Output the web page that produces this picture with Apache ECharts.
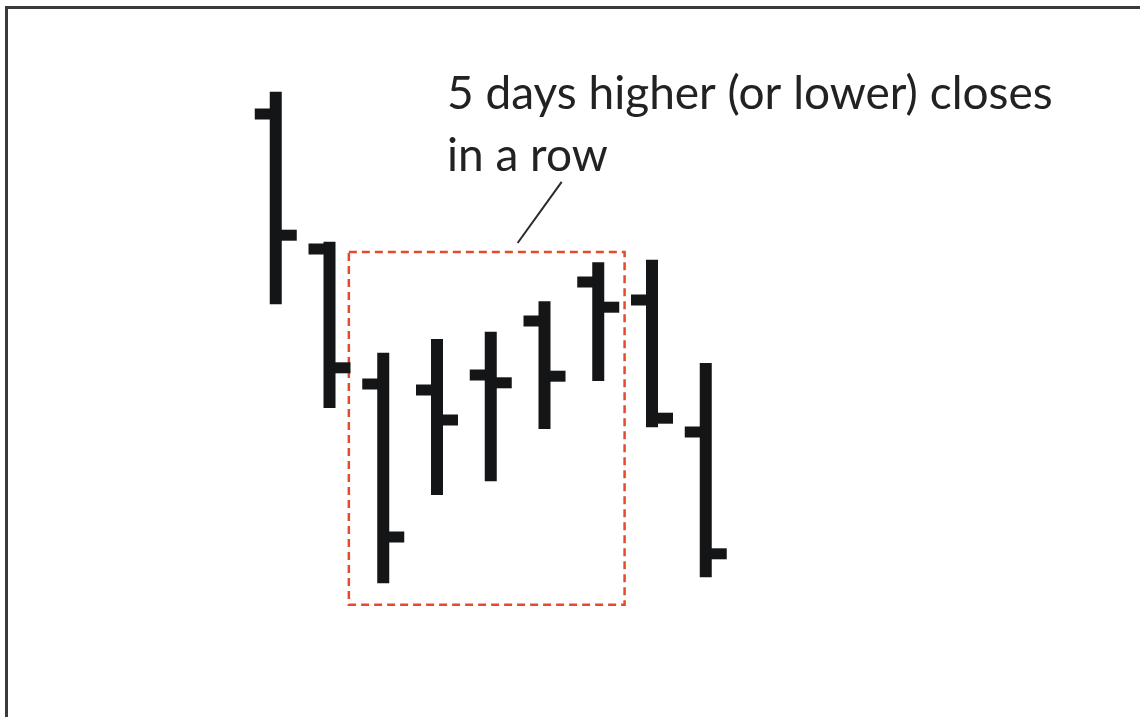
<!DOCTYPE html>
<html>
<head>
<meta charset="utf-8">
<title>5 days higher closes</title>
<script src="https://cdn.jsdelivr.net/npm/echarts@6/dist/echarts.min.js"></script>
<style>
    html, body { margin: 0; padding: 0; background: #fff; }
    #chart { width: 1140px; height: 717px; }
</style>
</head>
<body>
<div id="chart"></div>
<script>
// day index of each bar
const days = [1, 2, 3, 4, 5, 6, 7, 8, 9];
// prices (arbitrary units)
const opens  = [91.0, 68.5, 46.0, 45.0, 47.5, 56.5, 63.0, 60.0, 38.0];
const highs  = [94.7, 69.7, 51.2, 53.5, 54.7, 59.8, 66.3, 66.7, 49.5];
const lows   = [59.3, 42.0, 12.8, 27.5, 29.8, 38.5, 46.5, 38.8, 13.8];
const closes = [70.8, 48.7, 20.5, 40.0, 46.2, 47.3, 58.8, 40.3, 17.7];

// the dashed box around the 5 days, in day / price units
const boxDays = [2.36, 7.49];
const boxPrices = [9.2, 68];
// pointer from the note to the box
const pointerDays = [6.32, 5.5];
const pointerPrices = [79.7, 69.5];

const noteText = "5 days higher (or lower) closes\nin a row";

(function () {
    let chart = echarts.init(document.querySelector("#chart"));

    let rows = days.map((d, i) => [d, opens[i], closes[i], lows[i], highs[i]]);

    function renderBar(params, api) {
        let x = api.value(0);
        let pO = api.coord([x, api.value(1)]);
        let pC = api.coord([x, api.value(2)]);
        let pL = api.coord([x, api.value(3)]);
        let pH = api.coord([x, api.value(4)]);
        let w = 12, tick = 15, th = 11;
        let style = { fill: "#141517" };
        return {
            type: "group",
            children: [
                // high - low line
                { type: "rect", shape: { x: pH[0] - w / 2, y: pH[1], width: w, height: pL[1] - pH[1] }, style: style },
                // open tick on the left
                { type: "rect", shape: { x: pO[0] - w / 2 - tick, y: pO[1] - th / 2, width: tick + 1, height: th }, style: style },
                // close tick on the right
                { type: "rect", shape: { x: pC[0] + w / 2 - 1, y: pC[1] - th / 2, width: tick + 1, height: th }, style: style }
            ]
        };
    }

    let option = {
        animation: false,
        backgroundColor: "#fff",
        grid: {
            left: 222,
            right: 58,
            top: 60,
            bottom: 57
        },
        xAxis: {
            type: "value",
            min: 0,
            max: 16,
            show: false
        },
        yAxis: {
            type: "value",
            min: 0,
            max: 100,
            show: false
        },
        graphic: [
            // frame: top and left edge
            {
                type: "polyline",
                shape: { points: [[6.5, 717], [6.5, 7.5], [1140, 7.5]] },
                style: { stroke: "#3a3a3a", lineWidth: 3, fill: null }
            },
            {
                type: "text",
                left: 447,
                top: 63,
                style: {
                    text: noteText,
                    font: "46px Lato",
                    lineHeight: 62,
                    fill: "#222"
                }
            }
        ],
        series: [
            {
                type: "custom",
                renderItem: renderBar,
                encode: { x: 0, y: [1, 2, 3, 4] },
                data: rows,
                markArea: {
                    silent: true,
                    itemStyle: {
                        color: "rgba(0,0,0,0)",
                        borderColor: "#e64a2e",
                        borderWidth: 2.5,
                        borderType: [8, 5]
                    },
                    data: [[
                        { xAxis: boxDays[0], yAxis: boxPrices[1] },
                        { xAxis: boxDays[1], yAxis: boxPrices[0] }
                    ]]
                },
                markLine: {
                    silent: true,
                    symbol: "none",
                    label: { show: false },
                    lineStyle: { color: "#2a2a2a", width: 2, type: "solid" },
                    data: [[
                        { coord: [pointerDays[0], pointerPrices[0]] },
                        { coord: [pointerDays[1], pointerPrices[1]] }
                    ]]
                }
            }
        ]
    };

    chart.setOption(option);

    window.addEventListener("resize", () => chart.resize());
})();
</script>
</body>
</html>
